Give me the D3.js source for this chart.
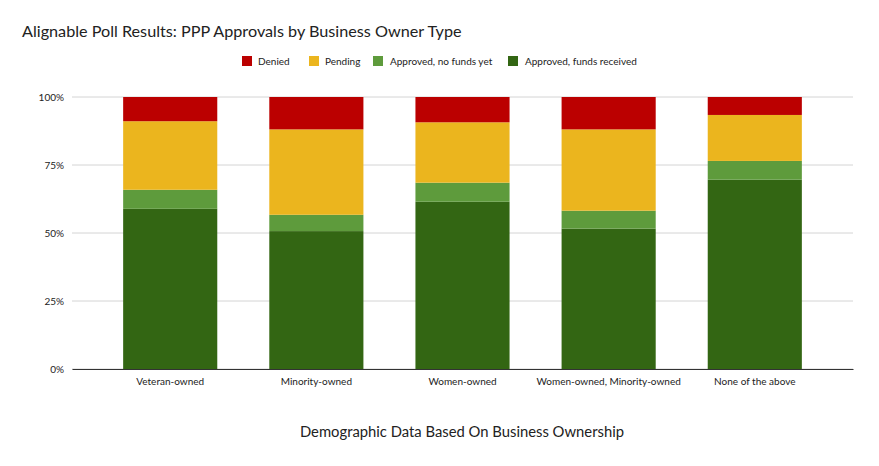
<!DOCTYPE html>
<html>
<head>
<meta charset="utf-8">
<script src="https://cdn.jsdelivr.net/npm/d3@7"></script>
<style>
  body { margin: 0; background: #fff; }
  text { font-family: Lato, "Open Sans", sans-serif; fill: #222; }
</style>
</head>
<body>
<div id="chart"></div>
<script>
// data (percent of respondents)
const categories = ["Veteran-owned", "Minority-owned", "Women-owned", "Women-owned, Minority-owned", "None of the above"];
const fundsReceived = [58.9, 50.7, 61.5, 51.6, 69.6];
const noFundsYet    = [7.0, 6.0, 7.0, 6.6, 6.9];
const pending       = [25.2, 31.4, 22.2, 29.9, 16.9];
const denied        = [8.9, 11.9, 9.3, 11.9, 6.6];
const yTicks = [0, 0.25, 0.5, 0.75, 1];

const seriesNames = ["Approved, funds received", "Approved, no funds yet", "Pending", "Denied"];
const colors = ["#336613", "#5e9b3c", "#ebb51e", "#bb0000"];

const width = 879, height = 466;
const margin = {top: 97, right: 26, bottom: 97, left: 72};

let svg = d3.select("#chart").append("svg")
    .attr("width", width)
    .attr("height", height);

// build rows for the stack
let rows = categories.map(function(c, i) {
    return {
        cat: c,
        "Approved, funds received": fundsReceived[i] / 100,
        "Approved, no funds yet": noFundsYet[i] / 100,
        "Pending": pending[i] / 100,
        "Denied": denied[i] / 100
    };
});
let stacked = d3.stack().keys(seriesNames)(rows);

let x = d3.scaleBand()
    .domain(categories)
    .range([margin.left, width - margin.right])
    .paddingInner(0.356)
    .paddingOuter(0.35);
let y = d3.scaleLinear()
    .domain([0, 1])
    .range([height - margin.bottom, margin.top]);

// gridlines
svg.append("g")
    .selectAll("line")
    .data(yTicks)
    .enter().append("line")
    .attr("x1", margin.left)
    .attr("x2", width - margin.right)
    .attr("y1", d => y(d))
    .attr("y2", d => y(d))
    .attr("stroke", "#d4d4d4")
    .attr("stroke-width", 1);

// y labels
svg.append("g")
    .attr("transform", `translate(${margin.left - 5},0)`)
    .call(d3.axisLeft(y).tickValues(yTicks).tickFormat(d3.format(".0%")).tickSize(0))
    .call(g => g.select(".domain").remove())
    .selectAll("text")
    .style("font-size", "10px")
    .style("font-family", "Lato, sans-serif")
    .attr("fill", "#222");

// bars
svg.append("g")
    .selectAll("g")
    .data(stacked)
    .enter().append("g")
    .attr("fill", (d, i) => colors[i])
    .selectAll("rect")
    .data(d => d)
    .enter().append("rect")
    .attr("x", d => x(d.data.cat))
    .attr("y", d => y(d[1]))
    .attr("width", x.bandwidth())
    .attr("height", d => y(d[0]) - y(d[1]));

// x axis
svg.append("g")
    .attr("transform", `translate(0,${height - margin.bottom})`)
    .call(d3.axisBottom(x).tickSize(0).tickPadding(9))
    .call(g => g.select(".domain").attr("stroke", "#333").attr("stroke-width", 1.2))
    .selectAll("text")
    .style("font-size", "10px")
    .style("font-family", "Lato, sans-serif")
    .attr("fill", "#222");

// title
svg.append("text")
    .attr("x", 22)
    .attr("y", 37)
    .style("font-size", "16.2px")
    .text("Alignable Poll Results: PPP Approvals by Business Owner Type");

// x axis title
svg.append("text")
    .attr("x", 462)
    .attr("y", 437)
    .attr("text-anchor", "middle")
    .style("font-size", "14.8px")
    .text("Demographic Data Based On Business Ownership");

// legend (order: denied first)
let legendItems = [3, 2, 1, 0];
let legendX = [242, 309, 373, 508];
let legend = svg.append("g");
legendItems.forEach(function(s, i) {
    legend.append("rect")
        .attr("x", legendX[i])
        .attr("y", 56)
        .attr("width", 10)
        .attr("height", 10)
        .attr("fill", colors[s]);
    legend.append("text")
        .attr("x", legendX[i] + (i >= 2 ? 17 : 16))
        .attr("y", 65)
        .style("font-size", "10px")
        .text(seriesNames[s]);
});
</script>
</body>
</html>
